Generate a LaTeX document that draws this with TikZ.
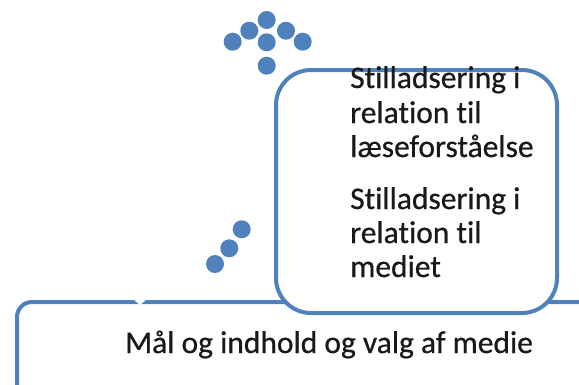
\documentclass[tikz,border=0pt]{standalone}
\usepackage{fontspec}
\setmainfont[Ligatures={NoCommon},FakeBold=0.6]{Carlito}
\definecolor{officeblue}{HTML}{4F81BD}
\begin{document}
\begin{tikzpicture}[x=1pt,y=-1pt,
  frame/.style={draw=officeblue,line width=4pt,fill=white},
  dot/.style={circle,fill=officeblue,inner sep=0pt,minimum size=18pt},
  label/.style={anchor=base west,inner sep=0pt,font=\fontsize{31.5}{35}\selectfont,text=black!90}]
\useasboundingbox (0,0) rectangle (579,384);
\clip (0,0) rectangle (579,384);

% base panel
\draw[frame,rounded corners=15pt] (17,302) rectangle (595,420);
\fill[white] (132,298) -- (148,298) -- (140,305) -- cycle;
\node[label] (goal) at (125,353) {Mål og indhold og valg af medie};

% scaffolding panel
\draw[frame,rounded corners=35pt] (276,70) rectangle (557,313);
\node[label] (s1a) at (350,88) {Stilladsering i};
\node[label] (s1b) at (350,123) {relation til};
\node[label] (s1c) at (350,157) {læseforståelse};
\node[label] (s2a) at (350,209) {Stilladsering i};
\node[label] (s2b) at (350,243) {relation til};
\node[label] (s2c) at (350,277) {mediet};

% arrow of dots
\node[dot] (d1) at (266.7,20) {};
\node[dot] (d2) at (249.3,30.7) {};
\node[dot] (d3) at (286,30.7) {};
\node[dot] (d4) at (232.7,41.7) {};
\node[dot] (d5) at (266.7,42.3) {};
\node[dot] (d6) at (302.7,41.7) {};
\node[dot] (d7) at (266.7,65.7) {};

% trail of dots
\node[dot] (t1) at (241.7,229.3) {};
\node[dot] (t2) at (229.3,248.3) {};
\node[dot] (t3) at (215,264) {};
\end{tikzpicture}
\end{document}
